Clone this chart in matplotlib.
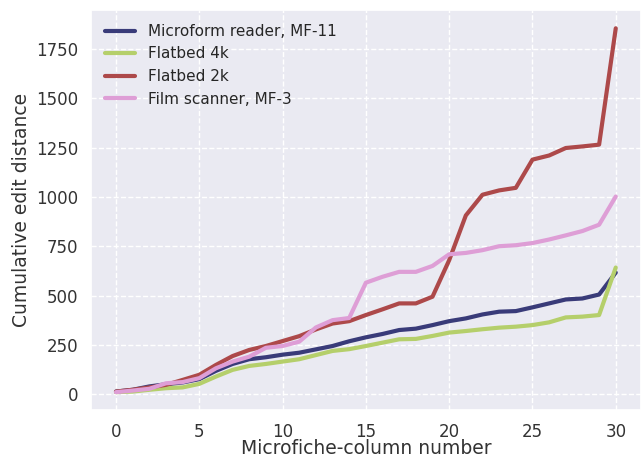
import matplotlib
matplotlib.use("Agg")
import matplotlib.pyplot as plt
import seaborn as sns

# column index
columns = list(range(31))

# cumulative edit distance per scanner
microform_mf11 = [13, 22, 39, 50, 59, 76, 118, 153, 177, 187, 200, 210, 227, 244, 268,
                  288, 305, 325, 332, 350, 370, 384, 404, 418, 421, 440, 460, 480, 485, 505, 616]
flatbed_4k = [10, 13, 22, 30, 34, 52, 89, 123, 143, 153, 165, 177, 198, 219, 228,
              244, 261, 278, 280, 295, 312, 320, 329, 337, 342, 350, 364, 389, 393, 401, 642]
flatbed_2k = [13, 22, 34, 47, 72, 98, 148, 193, 224, 244, 269, 294, 328, 358, 370,
              401, 430, 460, 460, 494, 679, 906, 1011, 1033, 1046, 1189, 1210, 1248, 1256, 1265, 1855]
film_mf3 = [10, 18, 27, 55, 61, 81, 131, 165, 190, 235, 244, 266, 338, 375, 386,
            565, 595, 620, 620, 650, 709, 716, 730, 750, 755, 766, 784, 805, 827, 859, 1002]

series = [
    ("Microform reader, MF-11", microform_mf11, "#393b79"),
    ("Flatbed 4k", flatbed_4k, "#b5cf6b"),
    ("Flatbed 2k", flatbed_2k, "#ad494a"),
    ("Film scanner, MF-3", film_mf3, "#de9ed6"),
]

sns.set_theme(style="darkgrid")
plt.rcParams["font.family"] = ["DejaVu Sans"]
plt.rcParams["grid.linestyle"] = "--"

fig = plt.figure(figsize=(6.43, 4.59), dpi=100)
ax = fig.add_axes([0.1415, 0.106, 0.855, 0.872])

for name, vals, col in series:
    ax.plot(columns, vals, color=col, lw=3, label=name)

ax.set_xticks([0, 5, 10, 15, 20, 25, 30])
ax.set_yticks([0, 250, 500, 750, 1000, 1250, 1500, 1750])
ax.tick_params(labelsize=12, colors=".2", pad=3)
ax.set_xlabel("Microfiche-column number", fontsize=13.5, color=".2", labelpad=-1)
ax.set_ylabel("Cumulative edit distance", fontsize=13.5, color=".2")
ax.legend(loc="upper left", frameon=False, fontsize=11)

fig.savefig("out.png", dpi=100)
